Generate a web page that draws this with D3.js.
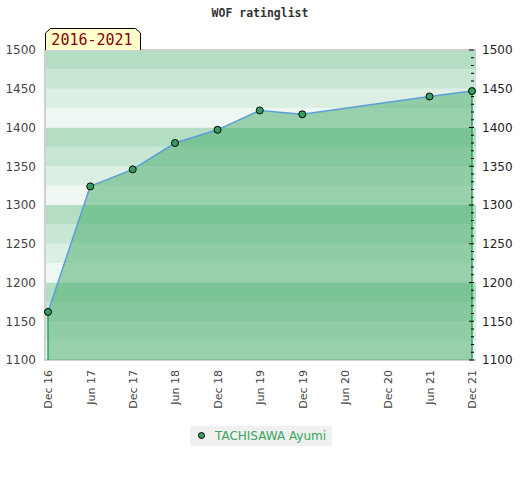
<!DOCTYPE html>
<html>
<head>
<meta charset="utf-8">
<script src="https://cdn.jsdelivr.net/npm/d3@7"></script>
<style>
  body { margin: 0; background: #fff; }
  svg { display: block; }
</style>
</head>
<body>
<svg id="svg" width="520" height="480"></svg>
<script>
// data
const pointDates = ["2016-12", "2017-06", "2017-12", "2018-06", "2018-12", "2019-06", "2019-12", "2021-06", "2021-12"];
const ratings = [1162, 1324, 1346, 1380, 1397, 1422, 1417, 1440, 1447];
const tickDates = ["2016-12", "2017-06", "2017-12", "2018-06", "2018-12", "2019-06", "2019-12", "2020-06", "2020-12", "2021-06", "2021-12"];
const yTicks = [1100, 1150, 1200, 1250, 1300, 1350, 1400, 1450, 1500];
const playerName = "TACHISAWA Ayumi";
const periodLabel = "2016-2021";
const chartTitle = "WOF ratinglist";

const bandColours = ["#eef7f1", "#dcefe3", "#c8e6d4", "#b3dec3"];

let svg = d3.select("#svg");
const parse = d3.timeParse("%Y-%m");

let data = pointDates.map((d, i) => ({ date: parse(d), value: ratings[i] }));

// plot box
const box = { left: 45, right: 476, top: 50, bottom: 360 };

let xScale = d3.scaleTime()
    .domain([parse(tickDates[0]), parse(tickDates[tickDates.length - 1])])
    .range([48, 472]);

let yScale = d3.scaleLinear()
    .domain([1100, 1500])
    .range([box.bottom, box.top]);

// title
svg.append("text")
    .attr("x", 260)
    .attr("y", 17)
    .attr("text-anchor", "middle")
    .style("font-family", "'DejaVu Sans Mono', monospace")
    .style("font-weight", "bold")
    .style("font-size", "11.5px")
    .style("fill", "#333")
    .text(chartTitle);

// horizontal background bands, 25 points each
let bands = d3.range(1100, 1500, 25);
svg.append("g").selectAll("rect")
    .data(bands)
    .enter().append("rect")
    .attr("x", box.left)
    .attr("width", box.right - box.left)
    .attr("y", d => yScale(d + 25))
    .attr("height", d => yScale(d) - yScale(d + 25))
    .attr("fill", d => bandColours[((d - 1100) / 25) % 4]);

// plot border (left, top, bottom)
svg.append("path")
    .attr("d", `M${box.right},${box.top}H${box.left}V${box.bottom}H${box.right}`)
    .attr("fill", "none")
    .attr("stroke", "#d0d0d0")
    .attr("stroke-width", 2);

// area under the rating line
let area = d3.area()
    .x(d => xScale(d.date))
    .y0(box.bottom)
    .y1(d => yScale(d.value));

svg.append("path")
    .datum(data)
    .attr("d", area)
    .attr("fill", "#43aa67")
    .attr("fill-opacity", 0.5);

// vertical green edges of the area
let first = data[0], last = data[data.length - 1];
[first, last].forEach(d => {
    svg.append("line")
        .attr("x1", xScale(d.date)).attr("x2", xScale(d.date))
        .attr("y1", yScale(d.value)).attr("y2", box.bottom)
        .attr("stroke", "#2fa35a")
        .attr("stroke-width", 1.5);
});

// right axis minor/major ticks
let rightTicks = d3.range(1100, 1501, 10);
svg.append("g").selectAll("line")
    .data(rightTicks)
    .enter().append("line")
    .attr("x1", d => d % 50 === 0 ? 469 : 471)
    .attr("x2", 474)
    .attr("y1", d => yScale(d))
    .attr("y2", d => yScale(d))
    .attr("stroke", "#000")
    .attr("stroke-width", 1);

// rating line
let line = d3.line()
    .x(d => xScale(d.date))
    .y(d => yScale(d.value));

svg.append("path")
    .datum(data)
    .attr("d", line)
    .attr("fill", "none")
    .attr("stroke", "#5b9fd6")
    .attr("stroke-width", 1.5);

svg.append("g").selectAll("circle")
    .data(data)
    .enter().append("circle")
    .attr("cx", d => xScale(d.date))
    .attr("cy", d => yScale(d.value))
    .attr("r", 3.5)
    .attr("fill", "#35a160")
    .attr("stroke", "#000")
    .attr("stroke-width", 1);

// left axis labels
let leftAxis = svg.append("g")
    .attr("transform", "translate(" + box.left + ",0)")
    .call(d3.axisLeft(yScale).tickValues(yTicks).tickFormat(d3.format("d")).tickSize(0).tickPadding(9));
leftAxis.select(".domain").remove();
leftAxis.selectAll("text")
    .style("font-family", "'DejaVu Sans', sans-serif")
    .style("font-size", "12px")
    .style("fill", "#444");

// right axis labels
let rightAxis = svg.append("g")
    .attr("transform", "translate(" + box.right + ",0)")
    .call(d3.axisRight(yScale).tickValues(yTicks).tickFormat(d3.format("d")).tickSize(0).tickPadding(6));
rightAxis.select(".domain").remove();
rightAxis.selectAll("text")
    .style("font-family", "'DejaVu Sans', sans-serif")
    .style("font-size", "12px")
    .style("fill", "#222");

// bottom axis, rotated labels
let xAxis = svg.append("g")
    .attr("transform", "translate(0," + box.bottom + ")")
    .call(d3.axisBottom(xScale)
        .tickValues(tickDates.map(parse))
        .tickFormat(d3.timeFormat("%b %y"))
        .tickSize(0));
xAxis.select(".domain").remove();
xAxis.selectAll("text")
    .attr("transform", "rotate(-90)")
    .attr("text-anchor", "end")
    .attr("x", -10)
    .attr("y", 0)
    .attr("dy", "0.35em")
    .style("font-family", "'DejaVu Sans', sans-serif")
    .style("font-size", "11px")
    .style("fill", "#444");

// period label tag with cut corners
let tag = svg.append("g");
tag.append("path")
    .attr("d", "M45.5,50 V33 L50.5,28.5 H135.5 L140.5,33 V50")
    .attr("fill", "#ffffcc")
    .attr("stroke", "#000")
    .attr("stroke-width", 1);
tag.append("text")
    .attr("x", 92)
    .attr("y", 45)
    .attr("text-anchor", "middle")
    .style("font-family", "'DejaVu Sans Mono', monospace")
    .style("font-size", "15px")
    .style("fill", "#8b0000")
    .text(periodLabel);

// legend
let legend = svg.append("g");
legend.append("rect")
    .attr("x", 190).attr("y", 426)
    .attr("width", 142).attr("height", 20)
    .attr("fill", "#f0f0f0");
legend.append("circle")
    .attr("cx", 201.5).attr("cy", 435.5)
    .attr("r", 3)
    .attr("fill", "#35a160")
    .attr("stroke", "#000");
legend.append("text")
    .attr("x", 215)
    .attr("y", 440)
    .style("font-family", "'DejaVu Sans', sans-serif")
    .style("font-size", "12px")
    .style("fill", "#3aa65e")
    .text(playerName);
</script>
</body>
</html>
